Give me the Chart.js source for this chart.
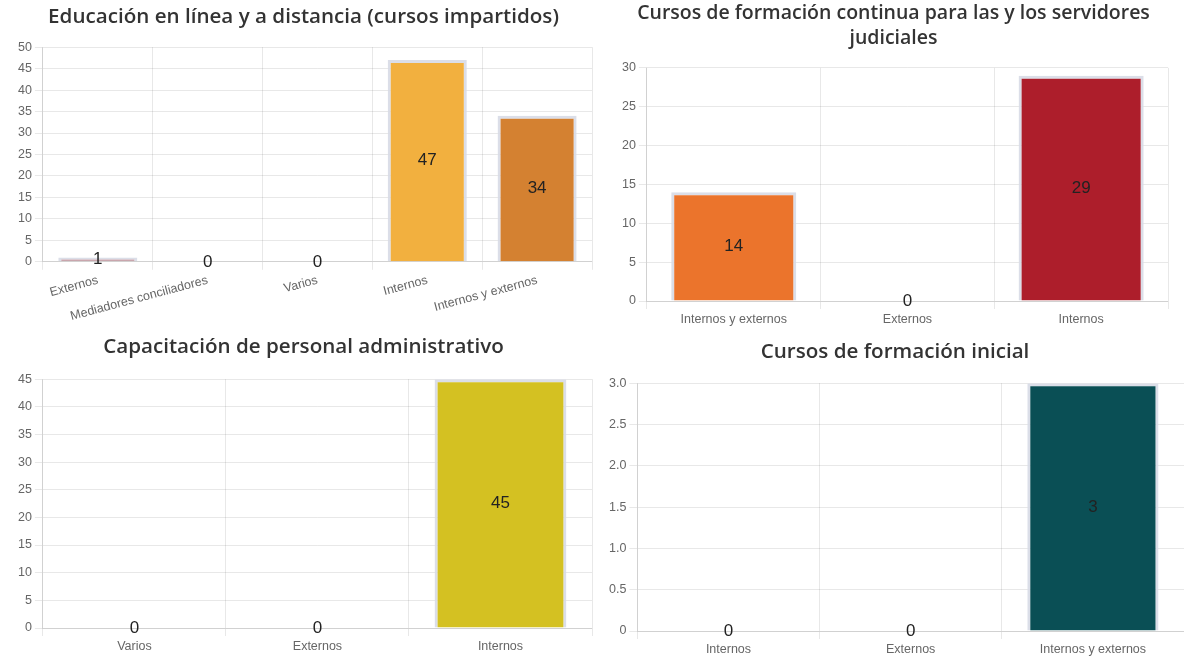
<!DOCTYPE html>
<html>
<head>
<meta charset="utf-8">
<script src="https://cdn.jsdelivr.net/npm/chart.js@4.4.1/dist/chart.umd.min.js"></script>
<style>
  html, body { margin: 0; padding: 0; background: #ffffff; }
  body { width: 1184px; height: 662px; position: relative; overflow: hidden; }
  .box { position: absolute; }
</style>
</head>
<body>
<div class="box" style="left:0;top:0;width:600px;height:330px;"><canvas id="c1"></canvas></div>
<div class="box" style="left:592px;top:0;width:592px;height:330px;"><canvas id="c2"></canvas></div>
<div class="box" style="left:0;top:330px;width:600px;height:332px;"><canvas id="c3"></canvas></div>
<div class="box" style="left:592px;top:330px;width:592px;height:332px;"><canvas id="c4"></canvas></div>
<script>
// ---- Data ----
const title1 = 'Educación en línea y a distancia (cursos impartidos)';
const labels1 = ['Externos', 'Mediadores conciliadores', 'Varios', 'Internos', 'Internos y externos'];
const values1 = [1, 0, 0, 47, 34];
const colors1 = ['#c9a6ad', '#9e9e9e', '#9e9e9e', '#f2b03f', '#d48131'];

const title2 = ['Cursos de formación continua para las y los servidores', 'judiciales'];
const labels2 = ['Internos y externos', 'Externos', 'Internos'];
const values2 = [14, 0, 29];
const colors2 = ['#eb742c', '#9e9e9e', '#ad1e2b'];

const title3 = 'Capacitación de personal administrativo';
const labels3 = ['Varios', 'Externos', 'Internos'];
const values3 = [0, 0, 45];
const colors3 = ['#9e9e9e', '#9e9e9e', '#d4c122'];

const title4 = 'Cursos de formación inicial';
const labels4 = ['Internos', 'Externos', 'Internos y externos'];
const values4 = [0, 0, 3];
const colors4 = ['#9e9e9e', '#9e9e9e', '#0a4f55'];

// ---- Value labels plugin ----
const valueLabels = {
  id: 'valueLabels',
  afterDatasetsDraw(chart) {
    const ctx = chart.ctx;
    ctx.save();
    ctx.font = '17px "Liberation Sans", Arial, sans-serif';
    ctx.fillStyle = '#222222';
    ctx.textAlign = 'center';
    ctx.textBaseline = 'middle';
    chart.data.datasets.forEach((ds, di) => {
      const meta = chart.getDatasetMeta(di);
      meta.data.forEach((bar, i) => {
        const y = (bar.y + bar.base) / 2;
        ctx.fillText(String(ds.data[i]), bar.x, y);
      });
    });
    ctx.restore();
  }
};

Chart.defaults.font.family = '"Liberation Sans", Arial, sans-serif';
Chart.defaults.color = '#666666';

function makeChart(id, title, labels, values, colors, opts) {
  return new Chart(document.getElementById(id), {
    type: 'bar',
    data: {
      labels: labels,
      datasets: [{
        data: values,
        backgroundColor: colors,
        borderColor: 'rgba(215,218,230,0.9)',
        borderWidth: 3
      }]
    },
    options: {
      responsive: true,
      maintainAspectRatio: false,
      animation: false,
      layout: { padding: opts.padding },
      plugins: {
        legend: { display: false },
        tooltip: { enabled: false },
        title: {
          display: true,
          text: title,
          color: '#333333',
          font: { family: '"Open Sans", sans-serif', size: opts.titleSize, weight: '600', lineHeight: opts.titleLH },
          padding: opts.titlePadding
        }
      },
      scales: {
        x: {
          grid: { color: 'rgba(0,0,0,0.09)' },
          ticks: { minRotation: opts.rot || 0, maxRotation: opts.rot || 0, font: { size: 12.5 } }
        },
        y: {
          min: 0,
          max: opts.max,
          ticks: { stepSize: opts.step, font: { size: 12.5 } },
          grid: { color: 'rgba(0,0,0,0.09)' }
        }
      }
    },
    plugins: [valueLabels]
  });
}

makeChart('c1', title1, labels1, values1, colors1, {
  padding: { left: 15, right: 8, top: 0, bottom: 3 }, titlePadding: { top: 5, bottom: 17 },
  titleSize: 20.6, titleLH: 1.22, max: 50, step: 5, rot: 15
});
makeChart('c2', title2, labels2, values2, colors2, {
  padding: { left: 27, right: 16, top: 0, bottom: 0 }, titlePadding: { top: 0, bottom: 16 },
  titleSize: 19.5, titleLH: 1.33, max: 30, step: 5
});
makeChart('c3', title3, labels3, values3, colors3, {
  padding: { left: 15, right: 8, top: 0, bottom: 5 }, titlePadding: { top: 5, bottom: 19 },
  titleSize: 20.6, titleLH: 1.22, max: 45, step: 5
});
makeChart('c4', title4, labels4, values4, colors4, {
  padding: { left: 14, right: 0, top: 0, bottom: 2 }, titlePadding: { top: 10, bottom: 18 },
  titleSize: 20.6, titleLH: 1.22, max: 3, step: 0.5
});
</script>
</body>
</html>
